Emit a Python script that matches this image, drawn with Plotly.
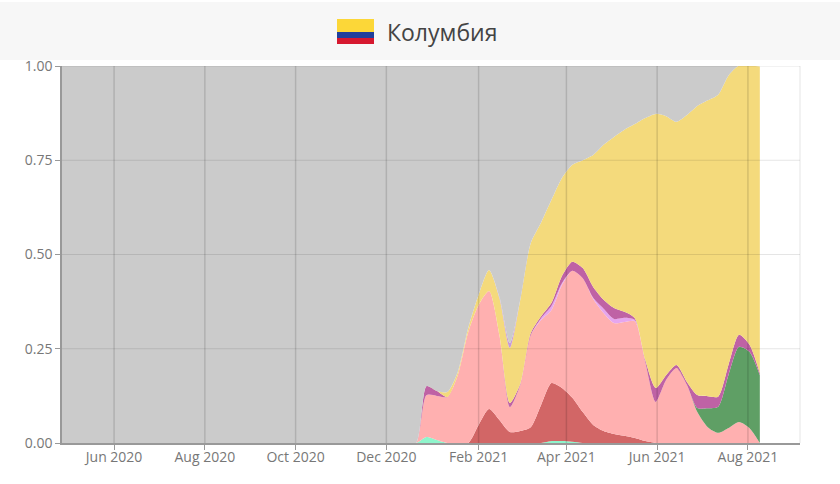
import plotly.graph_objects as go

dates = ["2020-04-27", "2020-12-14", "2020-12-21", "2020-12-28",
         "2021-01-04", "2021-01-11", "2021-01-18", "2021-01-25",
         "2021-02-01", "2021-02-08", "2021-02-15", "2021-02-22",
         "2021-03-01", "2021-03-08", "2021-03-15", "2021-03-22", "2021-03-29",
         "2021-04-05", "2021-04-12", "2021-04-19", "2021-04-26",
         "2021-05-03", "2021-05-10", "2021-05-17", "2021-05-24", "2021-05-31",
         "2021-06-07", "2021-06-14", "2021-06-21", "2021-06-28",
         "2021-07-05", "2021-07-12", "2021-07-19", "2021-07-26",
         "2021-08-02", "2021-08-09"]

mint = [0, 0, 0, .016,
        .008, 0, 0, 0,
        0, 0, 0, 0,
        0, 0, 0, .005, .005,
        .003, 0, 0, 0,
        0, 0, 0, 0, 0,
        0, 0, 0, 0,
        0, 0, 0, 0,
        0, 0]
red = [0, 0, 0, 0,
       0, 0, 0, 0,
       .048, .090, .061, .029,
       .032, .042, .101, .154, .141,
       .117, .082, .048, .032,
       .024, .019, .013, .005, 0,
       0, 0, 0, 0,
       0, 0, 0, 0,
       0, 0]
pink = [0, 0, 0, .111,
        .117, .122, .180, .294,
        .318, .313, .225, .066,
        .122, .244, .225, .194, .273,
        .337, .355, .334, .313,
        .294, .302, .310, .210, .109,
        .167, .199, .154, .082,
        .042, .027, .040, .056,
        .040, 0]
green = [0, 0, 0, 0,
         0, 0, 0, 0,
         0, 0, 0, 0,
         0, 0, 0, 0, 0,
         0, 0, 0, 0,
         0, 0, 0, 0, 0,
         0, 0, 0, .011,
         .050, .069, .141, .199,
         .202, .180]
lavender = [0, 0, 0, 0,
            0, 0, 0, 0,
            0, 0, 0, 0,
            0, 0, .005, .011, .005,
            0, 0, .003, .011,
            .011, .011, .003, 0, 0,
            0, 0, 0, 0,
            0, 0, 0, 0,
            0, 0]
magenta = [0, 0, 0, .024,
           .013, 0, 0, 0,
           0, 0, 0, .011,
           .003, .005, .005, .008, .019,
           .024, .027, .029, .024,
           .029, .016, .005, .005, .037,
           .013, .008, .008, .034,
           .032, .027, .027, .032,
           .019, .005]
yellow = [0, 0, 0, 0,
          0, .013, .008, .011,
          .027, .056, .098, .146,
          .223, .239, .249, .273, .260,
          .257, .286, .350, .411,
          .454, .483, .515, .642, .727,
          .687, .645, .708, .767,
          .785, .801, .767, .714,
          .740, .814]
violet = [0, 0, 0, 0,
          0, 0, 0, 0,
          0, 0, .003, .013,
          0, 0, 0, 0, 0,
          0, 0, 0, 0,
          0, 0, 0, 0, 0,
          0, 0, 0, 0,
          0, 0, 0, 0,
          0, 0]
gray = [1, 1, 1, .855,
        .868, .870, .818, .700,
        .612, .546, .620, .740,
        .626, .475, .420, .361, .303,
        .269, .255, .242, .216,
        .194, .176, .160, .144, .133,
        .139, .155, .136, .112,
        .096, .083, .033, 0,
        0, 0]

tick_dates = ["2020-06-01", "2020-08-01", "2020-10-01", "2020-12-01",
              "2021-02-01", "2021-04-01", "2021-06-01", "2021-08-01"]
tick_labels = ["Jun 2020", "Aug 2020", "Oct 2020", "Dec 2020",
               "Feb 2021", "Apr 2021", "Jun 2021", "Aug 2021"]
y_ticks = [0, 0.25, 0.5, 0.75, 1]
y_labels = ["0.00", "0.25", "0.50", "0.75", "1.00"]

W, H = 840, 484
L, R, T, B = 62, 800, 66, 443


def px_x(x):
    return (x - L) / (R - L)


def px_y(y):
    return (B - y) / (B - T)


fig = go.Figure()
for vals, col in [(mint, "#8ff5cc"), (red, "#d26666"), (pink, "#ffb0b0"),
                  (green, "#5f9f65"), (lavender, "#e6a6ee"), (magenta, "#bf62a5"),
                  (yellow, "#f4da7c"), (violet, "#c79ad8"), (gray, "#cbcbcb")]:
    fig.add_trace(go.Scatter(
        x=dates, y=vals,
        mode="lines",
        stackgroup="one",
        line=dict(width=0, shape="spline", smoothing=0.7),
        fillcolor=col,
        hoverinfo="skip",
        showlegend=False,
    ))

shapes = []
# header band and flag
shapes.append(dict(type="rect", xref="paper", yref="paper", layer="below",
                   x0=px_x(0), x1=px_x(W), y0=px_y(60), y1=px_y(2),
                   fillcolor="#f7f7f7", line=dict(width=0)))
for y0, y1, col in [(19, 32, "#fcd738"), (32, 38, "#1f3f9c"), (38, 44, "#d6182f")]:
    shapes.append(dict(type="rect", xref="paper", yref="paper",
                       x0=px_x(337), x1=px_x(374), y0=px_y(y1), y1=px_y(y0),
                       fillcolor=col, line=dict(width=0)))
# grid shows through the areas, so draw it on top
for d in tick_dates:
    shapes.append(dict(type="line", xref="x", yref="paper", layer="above",
                       x0=d, x1=d, y0=0, y1=1,
                       line=dict(color="rgba(0,0,0,0.13)", width=1.5)))
for v in y_ticks[1:]:
    shapes.append(dict(type="line", xref="paper", yref="y", layer="above",
                       x0=0, x1=1, y0=v, y1=v,
                       line=dict(color="rgba(0,0,0,0.1)", width=1.2)))
shapes.append(dict(type="line", xref="paper", yref="paper", layer="above",
                   x0=1, x1=1, y0=0, y1=1,
                   line=dict(color="rgba(0,0,0,0.1)", width=1)))

fig.update_layout(
    width=W, height=H,
    margin=dict(l=L, r=W - R, t=T, b=H - B),
    paper_bgcolor="white", plot_bgcolor="white",
    font=dict(family="Open Sans", size=14, color="#777777"),
    showlegend=False,
    shapes=shapes,
    annotations=[dict(text="Колумбия", xref="paper", yref="paper",
                      x=px_x(385), y=px_y(32), xanchor="left", yanchor="middle",
                      showarrow=False,
                      font=dict(family="Open Sans", size=23, color="#444444", weight=500))],
    xaxis=dict(range=["2020-04-27", "2021-09-05"], type="date",
               tickvals=tick_dates, ticktext=tick_labels,
               showgrid=False, zeroline=False,
               showline=True, linecolor="#999999", linewidth=1.5,
               ticks="outside", ticklen=5, tickcolor="#999999", layer="above traces",
               ticklabelstandoff=-5),
    yaxis=dict(range=[0, 1], tickvals=y_ticks, ticktext=y_labels,
               showgrid=False, zeroline=False,
               showline=True, linecolor="#999999", linewidth=1.5,
               ticks="outside", ticklen=5, tickcolor="#999999", layer="above traces"),
)

fig.write_html("out.html", post_script="document.body.style.margin='0';",
               config=dict(displayModeBar=False))
